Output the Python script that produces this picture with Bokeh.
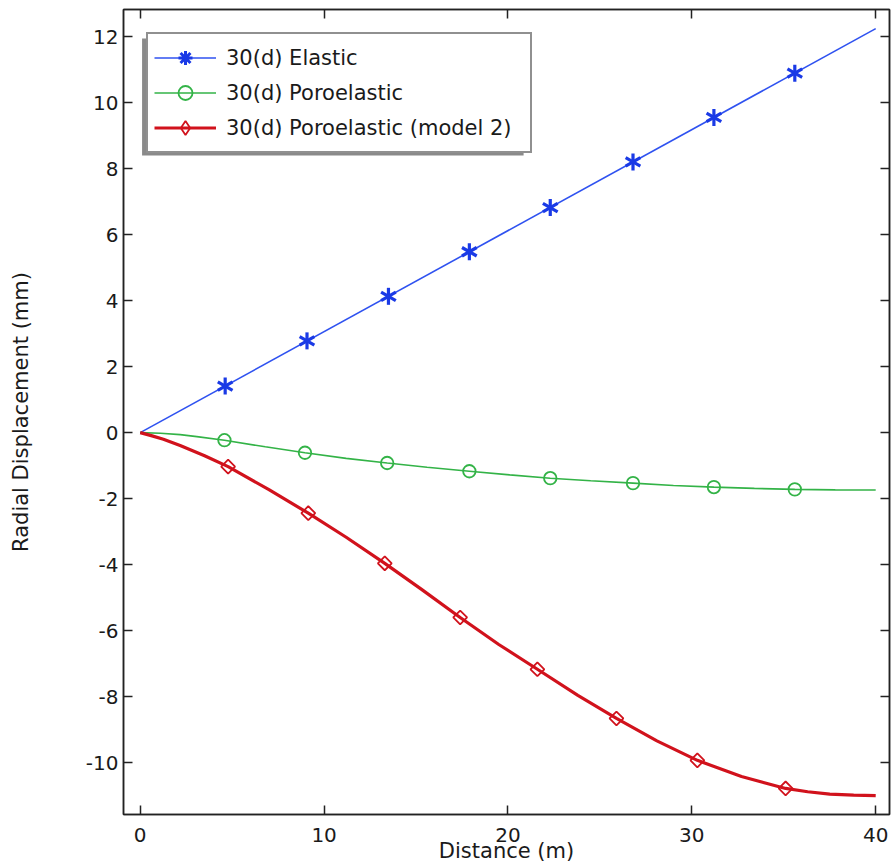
import math
from bokeh.plotting import figure
from bokeh.models import (Range1d, LinearAxis, FixedTicker, Legend, LegendItem,
                          BoxAnnotation, PrintfTickFormatter,
                          CustomJSTickFormatter)
from bokeh.embed import file_html
from bokeh.resources import INLINE

# Radial displacement after 30 days, three models
elastic_x = [0.0, 40.0]
elastic_y = [0.0, 12.24]
elastic_mx = [4.62, 9.07, 13.5, 17.9, 22.3, 26.8, 31.2, 35.6]
elastic_my = [1.41, 2.78, 4.13, 5.48, 6.82, 8.20, 9.55, 10.89]

poro_x = [0, 1.1, 2.17, 3.08, 4.58, 6.8, 8.96, 11.2, 13.43, 15.6, 17.9, 20.1,
          22.3, 24.5, 26.8, 29.0, 31.2, 33.4, 35.6, 37.8, 40.0]
poro_y = [0, -0.02, -0.06, -0.12, -0.23, -0.43, -0.61, -0.78, -0.92, -1.05,
          -1.17, -1.28, -1.38, -1.46, -1.53, -1.60, -1.65, -1.69, -1.72,
          -1.735, -1.74]
poro_mx = [4.58, 8.96, 13.43, 17.9, 22.3, 26.8, 31.2, 35.6]
poro_my = [-0.23, -0.61, -0.92, -1.17, -1.38, -1.53, -1.65, -1.72]

model2_x = [0, 0.6, 1.26, 2.17, 3.5, 4.78, 7.0, 9.14, 11.2, 13.3, 15.3, 17.4,
            19.5, 21.6, 23.8, 25.9, 28.1, 30.3, 32.7, 35.1, 36.3, 37.5, 38.8,
            40.0]
model2_y = [0, -0.09, -0.20, -0.39, -0.70, -1.03, -1.73, -2.44, -3.17, -3.96,
            -4.75, -5.60, -6.42, -7.17, -7.96, -8.66, -9.34, -9.93, -10.42,
            -10.78, -10.88, -10.95, -10.985, -11.0]
model2_mx = [4.78, 9.14, 13.3, 17.4, 21.6, 25.9, 30.3, 35.1]
model2_my = [-1.03, -2.44, -3.96, -5.60, -7.17, -8.66, -9.93, -10.78]

x_ticks = [0, 10, 20, 30, 40]
y_ticks = [-10, -8, -6, -4, -2, 0, 2, 4, 6, 8, 10, 12]

FONT = "DejaVu Sans"
INK = "#1a1a1a"
BLUE_LINE = "#2f52f0"
BLUE_MARK = "#1a3ae6"
GREEN = "#33b347"
RED = "#d1121c"
NAN = [math.nan]

p = figure(width=891, height=868, x_range=Range1d(-0.91, 40.75),
           y_range=Range1d(-11.57, 12.82), output_backend="svg",
           toolbar_location=None, min_border_left=123, min_border_right=2,
           min_border_top=9, min_border_bottom=54)
p.grid.visible = False
p.outline_line_color = "#222222"
p.outline_line_width = 1.5
p.background_fill_color = "white"
p.border_fill_color = "white"

# inward ticks on all four sides
p.add_layout(LinearAxis(), "above")
p.add_layout(LinearAxis(), "right")
for ax in p.axis:
    ax.major_tick_in = 9
    ax.major_tick_out = 0
    ax.minor_tick_in = 0
    ax.minor_tick_out = 0
    ax.axis_line_color = "#222222"
    ax.axis_line_width = 1.5
    ax.major_tick_line_color = "#222222"
    ax.major_tick_line_width = 1.5
    ax.major_label_text_font = FONT
    ax.major_label_text_font_size = "20px"
    ax.major_label_text_color = INK
    ax.axis_label_text_font = FONT
    ax.axis_label_text_font_size = "21px"
    ax.axis_label_text_font_style = "normal"
    ax.axis_label_text_color = INK
    ax.formatter = PrintfTickFormatter(format="%d")

for ax in (p.above[0], p.below[0]):
    ax.ticker = FixedTicker(ticks=x_ticks)
for ax in (p.left[0], p.right[0]):
    ax.ticker = FixedTicker(ticks=y_ticks)
for ax in (p.above[0], p.right[0]):
    ax.formatter = CustomJSTickFormatter(code="return ''")
    ax.major_label_standoff = 0

p.below[0].axis_label = "Distance (m)"
p.below[0].major_label_standoff = 13
p.below[0].axis_label_standoff = -6
p.left[0].axis_label = "Radial Displacement (mm)"
p.left[0].major_label_standoff = 5
p.left[0].axis_label_standoff = 50

# curves and markers
l1 = p.line(elastic_x, elastic_y, line_color=BLUE_LINE, line_width=1.6)
for a in (90, 30, 150):
    p.scatter(elastic_mx, elastic_my, marker="dash", size=17, angle=a,
              angle_units="deg", line_color=BLUE_MARK, line_width=3.2)

l2 = p.line(poro_x, poro_y, line_color=GREEN, line_width=1.6)
m2 = p.scatter(poro_mx, poro_my, marker="circle", size=12.5,
               fill_alpha=0.0, line_color=GREEN, line_width=1.8)

l3 = p.line(model2_x, model2_y, line_color=RED, line_width=3.2)
p.scatter(model2_mx, model2_my, marker="square", size=9.8, angle=45,
          angle_units="deg", fill_alpha=0.0, line_color=RED, line_width=1.8)

# marker keys shown in the legend
k1 = p.scatter(NAN, NAN, marker="asterisk", size=16, line_color=BLUE_MARK,
               line_width=3)
k3 = p.scatter(NAN, NAN, marker="diamond", size=16, fill_alpha=0.0,
               line_color=RED, line_width=1.8)

# drop shadow behind the legend box
p.add_layout(BoxAnnotation(left=0.1, right=20.85, top=11.94, bottom=8.40,
                           fill_color="#8a8a8a", fill_alpha=1.0,
                           line_color=None, level="annotation"))

legend = Legend(items=[
    LegendItem(label="30(d) Elastic", renderers=[l1, k1]),
    LegendItem(label="30(d) Poroelastic", renderers=[l2, m2]),
    LegendItem(label="30(d) Poroelastic (model 2)", renderers=[l3, k3]),
], location="top_left", margin=23, padding=6, spacing=0,
    glyph_width=62, glyph_height=35, label_height=24, label_width=298,
    label_standoff=10, label_text_font=FONT, label_text_font_size="21px",
    label_text_color=INK, border_line_color="#222222",
    border_line_width=2, background_fill_color="white",
    background_fill_alpha=1.0)
p.add_layout(legend, "center")

open("out.html", "w").write(file_html(p, INLINE))
